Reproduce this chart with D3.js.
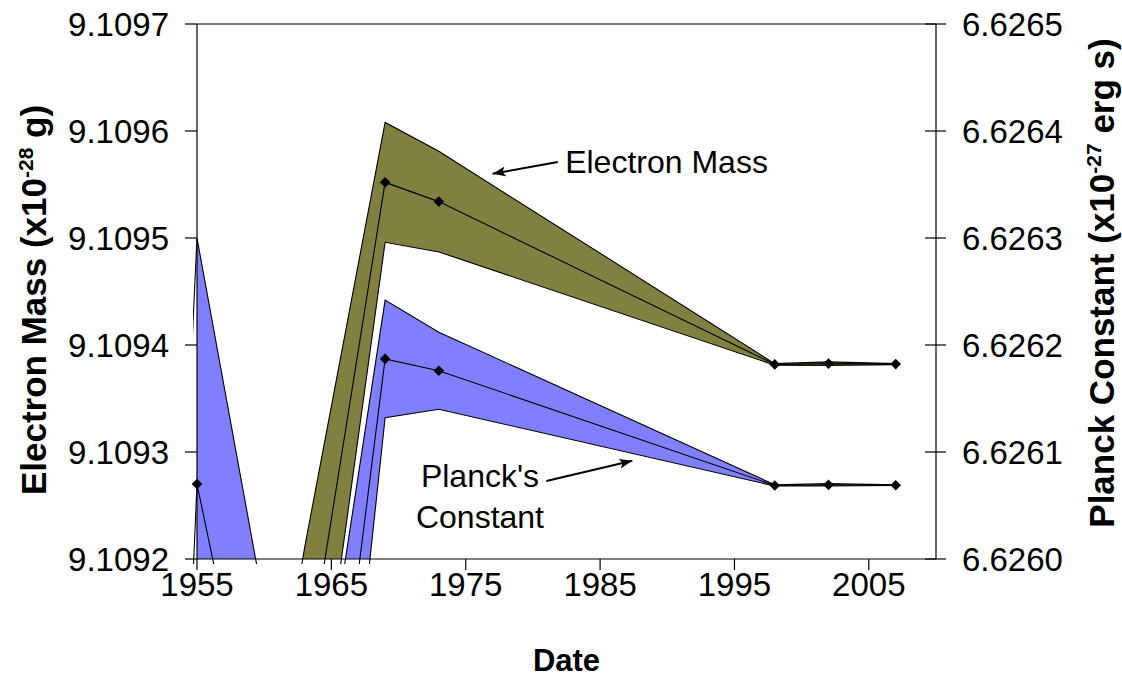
<!DOCTYPE html>
<html><head><meta charset="utf-8">
<script src="https://cdn.jsdelivr.net/npm/d3@7"></script>
<style>
body{margin:0;background:#fff}
text{font-family:"Liberation Sans",Arial,sans-serif;fill:#000}
</style>
</head><body>
<svg id="chart" width="1122" height="681"></svg>
<script>
// ---- data ----
const years        = [1952, 1955, 1963, 1969, 1973, 1998, 2002, 2007];
const electronMass = [null, 9.1083, 9.10908, 9.109552, 9.109534, 9.10938188, 9.1093826, 9.10938215];
const electronUnc  = [null, 0.0003, 0.00013, 0.000056, 0.000047, 0.00000072, 0.0000016, 0.00000045];
const planckConst  = [6.6252, 6.62607, 6.62559, 6.626187, 6.626176, 6.62606876, 6.6260693, 6.62606896];
const planckUnc    = [0.0003, 0.00023, 0.00016, 0.000055, 0.000036, 0.00000052, 0.0000011, 0.00000033];
const xTicks     = [1955, 1965, 1975, 1985, 1995, 2005];
const leftTicks  = [9.1092, 9.1093, 9.1094, 9.1095, 9.1096, 9.1097];
const rightTicks = [6.6260, 6.6261, 6.6262, 6.6263, 6.6264, 6.6265];
const xTitle = "Date";
const leftTitle  = ["Electron Mass (x10", "-28", " g)"];
const rightTitle = ["Planck Constant (x10", "-27", " erg s)"];
// annotation anchors in data space: [year, value]
const electronNote = {text: "Electron Mass", at: [1982.4, 9.1095608], from: [1981.85, 9.109571], to: [1977.0, 9.109560]};
const planckNote   = {lines: ["Planck's", "Constant"], at: [[1976.06, 6.6260673], [1976.06, 6.626029]], from: [1981.0, 6.6260729], to: [1987.4, 6.6260918]};

// ---- layout ----
const L = 197, R = 936, T = 24, B = 559;
const svg = d3.select("#chart");
const x  = d3.scaleLinear().domain([1955, 2010]).range([L, R]);
const yL = d3.scaleLinear().domain([9.1092, 9.1097]).range([B, T]);
const yR = d3.scaleLinear().domain([6.6260, 6.6265]).range([B, T]);
const fmt = d3.format(".4f");

const defs = svg.append("defs");
defs.append("clipPath").attr("id","fillClip").append("rect").attr("x",L).attr("y",T).attr("width",R-L).attr("height",B-T);
defs.append("clipPath").attr("id","lineClip").append("rect").attr("x",L-4).attr("y",T).attr("width",R-L+4).attr("height",B-T+5);
defs.append("marker").attr("id","arrow").attr("markerUnits","userSpaceOnUse")
  .attr("markerWidth",16).attr("markerHeight",12).attr("refX",13).attr("refY",5).attr("orient","auto")
  .append("path").attr("d","M0,0 L13,5 L0,10 L3,5 Z").attr("fill","#000");

function build(vals, uncs){
  return years.map((yr,i)=>({year:yr, v:vals[i], u:uncs[i]})).filter(d=>d.v!==null);
}
const eData = build(electronMass, electronUnc);
const pData = build(planckConst, planckUnc);

function drawBand(data, y, color){
  const area = d3.area().x(d=>x(d.year)).y0(d=>y(d.v-d.u)).y1(d=>y(d.v+d.u));
  svg.append("path").datum(data).attr("clip-path","url(#fillClip)")
    .attr("d",area).attr("fill",color).attr("stroke","none");
  const g = svg.append("g").attr("clip-path","url(#lineClip)");
  [d=>d.v+d.u, d=>d.v, d=>d.v-d.u].forEach(acc=>{
    g.append("path").datum(data)
      .attr("d", d3.line().x(d=>x(d.year)).y(d=>y(acc(d))))
      .attr("fill","none").attr("stroke","#000").attr("stroke-width",1.1);
  });
}
drawBand(eData, yL, "#808040");
drawBand(pData, yR, "#8080ff");

function drawMarkers(data, y){
  const sym = d3.symbol().type(d3.symbolSquare).size(56);
  svg.append("g").selectAll("path")
    .data(data.filter(d=>d.year>=1955 && y(d.v)>=T && y(d.v)<=B))
    .join("path").attr("d",sym)
    .attr("transform",d=>`translate(${x(d.year)},${y(d.v)}) rotate(45)`)
    .attr("fill","#000");
}
drawMarkers(eData, yL);
drawMarkers(pData, yR);

// ---- axes ----
const ax = svg.append("g").attr("stroke","#000").attr("stroke-width",1.2).attr("fill","none");
ax.append("line").attr("x1",L).attr("x2",R).attr("y1",T).attr("y2",T);
ax.append("line").attr("x1",L).attr("x2",R).attr("y1",B).attr("y2",B);
ax.append("line").attr("x1",L).attr("x2",L).attr("y1",T).attr("y2",B);
ax.append("line").attr("x1",R).attr("x2",R).attr("y1",T).attr("y2",B);

leftTicks.forEach(v=>{
  ax.append("line").attr("x1",L-12).attr("x2",L).attr("y1",yL(v)).attr("y2",yL(v));
  svg.append("text").attr("x",169).attr("y",yL(v)).attr("dy","0.36em")
    .attr("text-anchor","end").attr("font-size",33).text(fmt(v));
});
rightTicks.forEach(v=>{
  ax.append("line").attr("x1",R-11).attr("x2",R+10).attr("y1",yR(v)).attr("y2",yR(v));
  svg.append("text").attr("x",962).attr("y",yR(v)).attr("dy","0.36em")
    .attr("text-anchor","start").attr("font-size",33).text(fmt(v));
});
xTicks.forEach(t=>{
  ax.append("line").attr("x1",x(t)).attr("x2",x(t)).attr("y1",B).attr("y2",B+11);
  svg.append("text").attr("x",x(t)).attr("y",596)
    .attr("text-anchor","middle").attr("font-size",33).text(t);
});

// ---- titles ----
svg.append("text").attr("x",(L+R)/2).attr("y",671).attr("text-anchor","middle")
  .attr("font-size",31).attr("font-weight","bold").text(xTitle);

function vTitle(parts, cx, cy){
  const t = svg.append("text").attr("transform",`translate(${cx},${cy}) rotate(-90)`)
    .attr("text-anchor","middle").attr("font-size",35).attr("font-weight","bold");
  t.append("tspan").text(parts[0]);
  t.append("tspan").attr("font-size",21).attr("dy",-13).text(parts[1]);
  t.append("tspan").attr("dy",13).text(parts[2]);
}
vTitle(leftTitle, 46, 300);
vTitle(rightTitle, 1114, 283);

// ---- annotations ----
svg.append("text").attr("x",x(electronNote.at[0])).attr("y",yL(electronNote.at[1]))
  .attr("font-size",32).text(electronNote.text);
svg.append("line").attr("x1",x(electronNote.from[0])).attr("y1",yL(electronNote.from[1]))
  .attr("x2",x(electronNote.to[0])).attr("y2",yL(electronNote.to[1]))
  .attr("stroke","#000").attr("stroke-width",2).attr("marker-end","url(#arrow)");
planckNote.lines.forEach((s,i)=>{
  svg.append("text").attr("x",x(planckNote.at[i][0])).attr("y",yR(planckNote.at[i][1]))
    .attr("text-anchor","middle").attr("font-size",32).text(s);
});
svg.append("line").attr("x1",x(planckNote.from[0])).attr("y1",yR(planckNote.from[1]))
  .attr("x2",x(planckNote.to[0])).attr("y2",yR(planckNote.to[1]))
  .attr("stroke","#000").attr("stroke-width",2).attr("marker-end","url(#arrow)");
</script>
</body></html>
